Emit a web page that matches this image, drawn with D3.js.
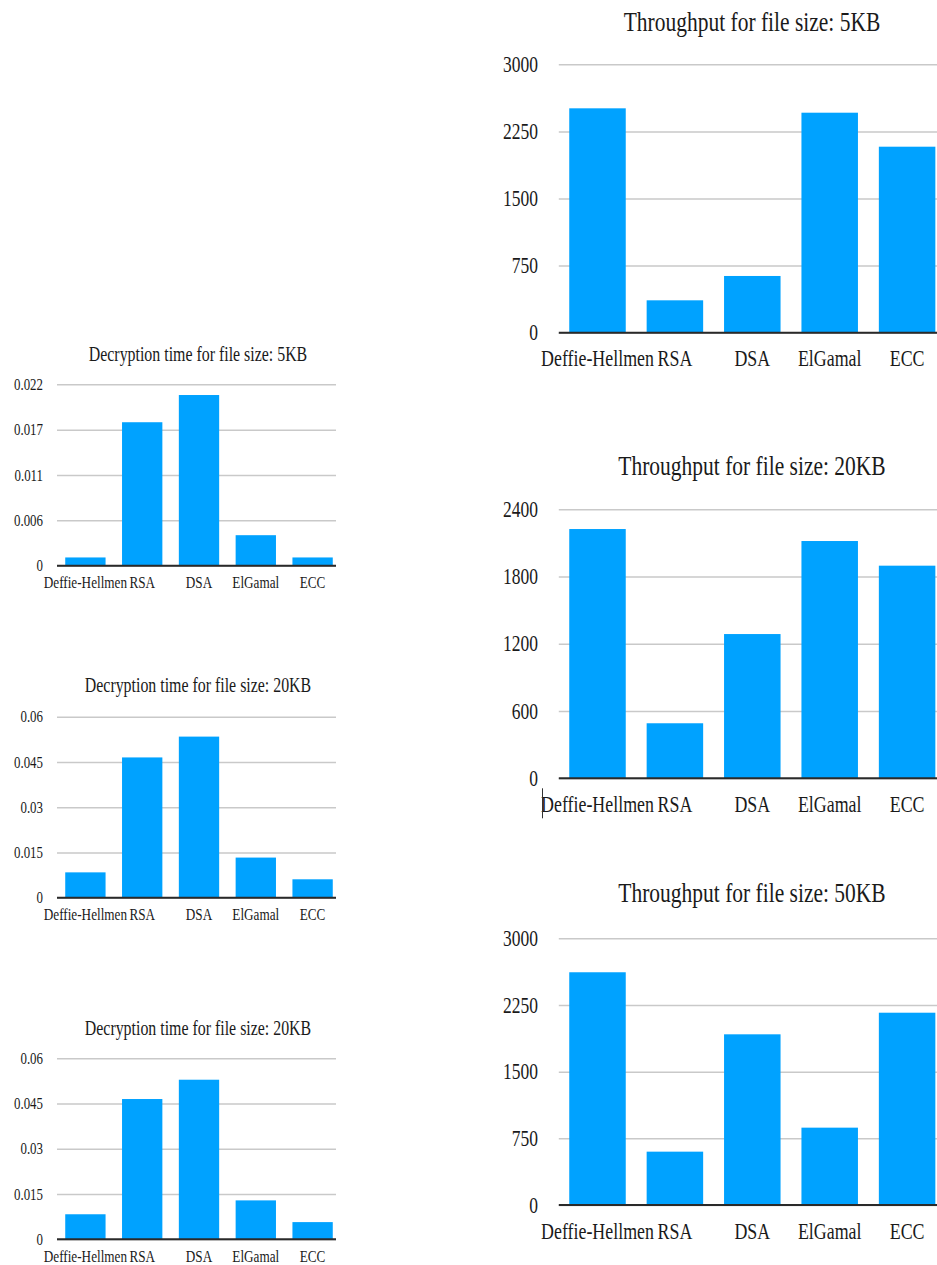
<!DOCTYPE html>
<html>
<head>
<meta charset="utf-8">
<script src="https://cdn.jsdelivr.net/npm/d3@7"></script>
<style>
  html, body { margin: 0; padding: 0; background: #fff; }
  svg { display: block; }
  text { font-family: "Liberation Serif", "Times New Roman", serif; fill: #1a1a1a; }
</style>
</head>
<body>
<svg id="chart" width="937" height="1265"></svg>
<script>
// ---------- data ----------
const categories = ["Deffie-Hellmen", "RSA", "DSA", "ElGamal", "ECC"];

const decrypt5KB   = [0.0010, 0.0174, 0.0207, 0.0037, 0.0010];
const decrypt20KB  = [0.0084, 0.0465, 0.0534, 0.0133, 0.0061];
const decrypt20KBb = [0.0083, 0.0465, 0.0529, 0.0129, 0.0057];

const throughput5KB  = [2508, 362, 634, 2459, 2079];
const throughput20KB = [2224, 491, 1287, 2117, 1897];
const throughput50KB = [2618, 600, 1920, 870, 2163];

const decrypt5KBTicks       = [0, 0.0055, 0.011, 0.0165, 0.022];
const decrypt5KBTickLabels  = ["0", "0.006", "0.011", "0.017", "0.022"];
const decrypt20KBTicks      = [0, 0.015, 0.03, 0.045, 0.06];
const decrypt20KBTickLabels = ["0", "0.015", "0.03", "0.045", "0.06"];
const throughput3000Ticks      = [0, 750, 1500, 2250, 3000];
const throughput3000TickLabels = ["0", "750", "1500", "2250", "3000"];
const throughput2400Ticks      = [0, 600, 1200, 1800, 2400];
const throughput2400TickLabels = ["0", "600", "1200", "1800", "2400"];

const titles = [
  "Decryption time for file size: 5KB",
  "Decryption time for file size: 20KB",
  "Decryption time for file size: 20KB",
  "Throughput for file size: 5KB",
  "Throughput for file size: 20KB",
  "Throughput for file size: 50KB"
];

// ---------- layout / style ----------
const BAR = "#00a2ff";
const GRID = "#c9c9c9";
const AXIS = "#2a2a2a";
const STRETCH = 1.32;

const leftStyle  = { x0: 57, x1: 341, gridEnd: 336, pad: 0.29, tickX: 43, titleX: 198,
                     titleFs: 15.9, tickFs: 12.9, labelFs: 13.2, labelDy: 22.6 };
const rightStyle = { x0: 558.8, x1: 945.8, gridEnd: 940, pad: 0.27, tickX: 538, titleX: 752,
                     titleFs: 21.5, tickFs: 17.5, labelFs: 17.9, labelDy: 33.5 };

const charts = [
  { s: leftStyle,  values: decrypt5KB,   ticks: decrypt5KBTicks,  tickLabels: decrypt5KBTickLabels,  title: titles[0], yBottom: 565.7, yTop: 384.3, titleY: 360.7 },
  { s: leftStyle,  values: decrypt20KB,  ticks: decrypt20KBTicks, tickLabels: decrypt20KBTickLabels, title: titles[1], yBottom: 897.7, yTop: 716.7, titleY: 691.7 },
  { s: leftStyle,  values: decrypt20KBb, ticks: decrypt20KBTicks, tickLabels: decrypt20KBTickLabels, title: titles[2], yBottom: 1239.3, yTop: 1058.3, titleY: 1035 },
  { s: rightStyle, values: throughput5KB,  ticks: throughput3000Ticks, tickLabels: throughput3000TickLabels, title: titles[3], yBottom: 332.7, yTop: 64.3, titleY: 31 },
  { s: rightStyle, values: throughput20KB, ticks: throughput2400Ticks, tickLabels: throughput2400TickLabels, title: titles[4], yBottom: 778.3, yTop: 509.3, titleY: 475, cursor: true },
  { s: rightStyle, values: throughput50KB, ticks: throughput3000Ticks, tickLabels: throughput3000TickLabels, title: titles[5], yBottom: 1205, yTop: 938.3, titleY: 902 }
];

const svg = d3.select("#chart");

function stretchedText(g, x, y, str, fs, anchor) {
  return g.append("text")
    .attr("transform", `translate(${x},${y}) scale(1,${STRETCH})`)
    .attr("text-anchor", anchor)
    .style("font-size", fs + "px")
    .text(str);
}

charts.forEach(c => {
  const s = c.s;
  const g = svg.append("g");
  const x = d3.scaleBand().domain(categories).range([s.x0, s.x1]).paddingInner(s.pad).paddingOuter(s.pad / 2);
  const maxTick = c.ticks[c.ticks.length - 1];
  const y = d3.scaleLinear().domain([0, maxTick]).range([c.yBottom, c.yTop]);

  // gridlines via axis
  const gridAxis = d3.axisLeft(y).tickValues(c.ticks).tickSize(-(s.gridEnd - s.x0)).tickFormat("");
  const gg = g.append("g").attr("transform", `translate(${s.x0},0)`).call(gridAxis);
  gg.select(".domain").remove();
  gg.selectAll(".tick line").attr("stroke", GRID).attr("stroke-width", 1.5);

  // tick labels
  const capH = s.tickFs * 0.662 * STRETCH;
  c.ticks.forEach((t, i) => {
    stretchedText(g, s.tickX, y(t) + capH / 2, c.tickLabels[i], s.tickFs, "end");
  });

  // bars
  g.selectAll("rect.bar").data(c.values).join("rect")
    .attr("class", "bar")
    .attr("x", (d, i) => x(categories[i]))
    .attr("width", x.bandwidth())
    .attr("y", d => y(d))
    .attr("height", d => y(0) - y(d))
    .attr("fill", BAR);

  // baseline axis
  g.append("line")
    .attr("x1", s.x0).attr("x2", s.gridEnd)
    .attr("y1", y(0)).attr("y2", y(0))
    .attr("stroke", AXIS).attr("stroke-width", 2);

  // category labels
  categories.forEach(cat => {
    stretchedText(g, x(cat) + x.bandwidth() / 2, y(0) + s.labelDy, cat, s.labelFs, "middle");
  });

  // title
  stretchedText(g, s.titleX, c.titleY, c.title, s.titleFs, "middle");

  // text-cursor artifact seen in the reference
  if (c.cursor) {
    const cx = x(categories[0]) + x.bandwidth() / 2 - 55;
    g.append("line")
      .attr("x1", cx).attr("x2", cx)
      .attr("y1", y(0) + 10).attr("y2", y(0) + 40)
      .attr("stroke", "#333").attr("stroke-width", 1);
  }
});
</script>
</body>
</html>
